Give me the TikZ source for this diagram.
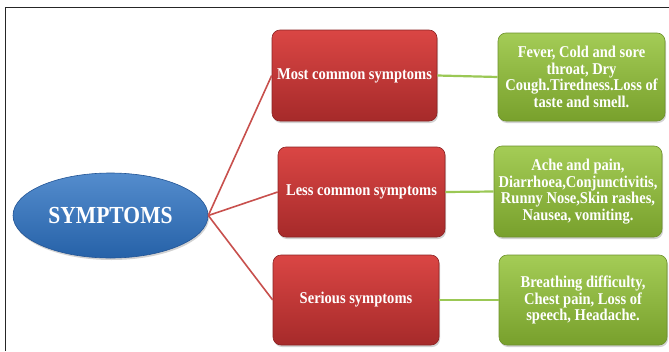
\documentclass[tikz,border=0pt]{standalone}
\usepackage{fontspec}
\setmainfont{Liberation Serif}[FakeStretch=0.88]
\usetikzlibrary{shadows,shapes.geometric}
\definecolor{redtop}{RGB}{218,70,68}
\definecolor{redbot}{RGB}{166,42,42}
\definecolor{rededge}{RGB}{140,35,35}
\definecolor{greentop}{RGB}{164,204,86}
\definecolor{greenbot}{RGB}{120,160,44}
\definecolor{greenedge}{RGB}{110,145,45}
\definecolor{bluetop}{RGB}{84,140,205}
\definecolor{bluebot}{RGB}{38,98,168}
\definecolor{blueedge}{RGB}{35,85,150}
\definecolor{redline}{RGB}{200,80,77}
\definecolor{greenline}{RGB}{155,200,85}
\begin{document}
\begin{tikzpicture}[x=1pt,y=-1pt,
  shad/.style={drop shadow={opacity=0.35,shadow xshift=1pt,shadow yshift=-2pt}},
  redbox/.style={shad,rectangle,rounded corners=8pt,top color=redtop,bottom color=redbot,
    draw=rededge,line width=0.6pt,text=white,align=center,inner sep=2pt,
    font=\bfseries\fontsize{16.5}{17}\selectfont},
  greenbox/.style={shad,rectangle,rounded corners=8pt,top color=greentop,bottom color=greenbot,
    draw=greenedge,line width=0.6pt,text=white,align=center,inner sep=2pt,
    minimum width=168pt,font=\bfseries\fontsize{16.5}{16.5}\selectfont},
  rline/.style={draw=redline,line width=1.6pt},
  gline/.style={draw=greenline,line width=2.2pt}]
\useasboundingbox (0,0) rectangle (669,351);
\fill[white] (0,0) rectangle (669,351);
\draw[line width=1.4pt,black!85] (5.5,351) -- (5.5,7.5) -- (669,7.5);

\node[shad,ellipse,top color=bluetop,bottom color=bluebot,draw=blueedge,line width=0.6pt,
  minimum width=195pt,minimum height=85pt,inner sep=0pt,text=white,
  font=\bfseries\fontsize{24.5}{25}\selectfont] (sym) at (110.5,215.5) {SYMPTOMS};

\node[redbox,minimum width=165pt,minimum height=91pt] (r1) at (354.5,75.5) {Most common symptoms};
\node[redbox,minimum width=167pt,minimum height=90pt] (r2) at (361.5,192) {Less common symptoms};
\node[redbox,minimum width=166pt,minimum height=90pt] (r3) at (356,300) {Serious symptoms};

\node[greenbox,minimum width=167pt,minimum height=88pt] (g1) at (581.5,77)
  {Fever, Cold and sore\\throat, Dry\\Cough.Tiredness.Loss of\\taste and smell.};
\node[greenbox,minimum width=168pt,minimum height=91pt] (g2) at (578,191.5)
  {Ache and pain,\\Diarrhoea,Conjunctivitis,\\Runny Nose,Skin rashes,\\Nausea, vomiting.};
\node[greenbox,minimum width=168pt,minimum height=90pt] (g3) at (583,300)
  {Breathing difficulty,\\Chest pain, Loss of\\speech, Headache.};

\draw[rline] (sym.east) -- (r1.west);
\draw[rline] (sym.east) -- (r2.west);
\draw[rline] (sym.east) -- (r3.west);
\draw[gline] (r1.east) -- (g1.west);
\draw[gline] (r2.east) -- (g2.west);
\draw[gline] (r3.east) -- (g3.west);
\end{tikzpicture}
\end{document}
